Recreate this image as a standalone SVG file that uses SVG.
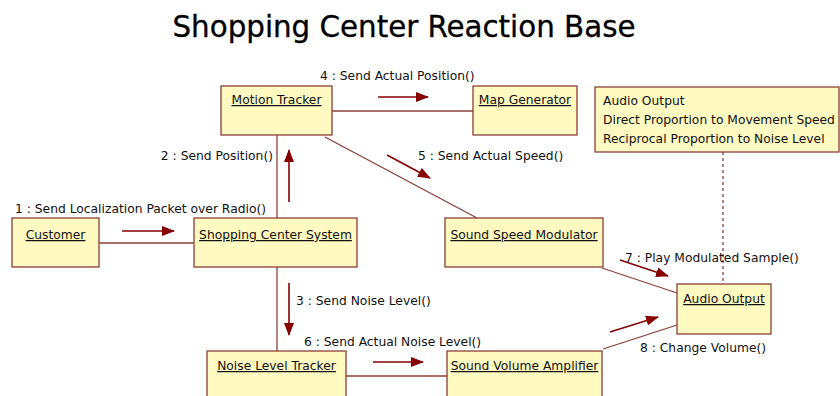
<svg xmlns="http://www.w3.org/2000/svg" width="840" height="396" viewBox="0 0 840 396">
<style>
.box{fill:#fffac2;stroke:#8b4036;stroke-width:1.3}
.nm{font-family:"DejaVu Sans","Liberation Sans",sans-serif;font-size:12.3px;fill:#111;text-decoration:underline;text-anchor:middle}
.lb{font-family:"DejaVu Sans","Liberation Sans",sans-serif;font-size:12.3px;fill:#111}
.ln{stroke:#8b4036;stroke-width:1.3;fill:none}
.ar{stroke:#850000;stroke-width:1.6;fill:none;marker-end:url(#ah)}
</style>
<defs>
<marker id="ah" viewBox="0 0 13 10" refX="12" refY="5" markerWidth="13" markerHeight="10" markerUnits="userSpaceOnUse" orient="auto">
<path d="M0,0 L13,5 L0,10 z" fill="#850000"/>
</marker>
</defs>
<rect width="840" height="396" fill="#fff"/>
<text x="404" y="37" font-family="DejaVu Sans Condensed, Liberation Sans, sans-serif" font-size="30" text-anchor="middle" fill="#000" stroke="#000" stroke-width="0.3" textLength="463" lengthAdjust="spacingAndGlyphs">Shopping Center Reaction Base</text>
<g id="connectors">
<line class="ln" x1="99" y1="243" x2="194" y2="243"/>
<line class="ln" x1="277" y1="135" x2="277" y2="218"/>
<line class="ln" x1="277" y1="267" x2="277" y2="351"/>
<line class="ln" x1="332" y1="111" x2="473" y2="111"/>
<line class="ln" x1="325" y1="137" x2="477" y2="218"/>
<line class="ln" x1="602" y1="268" x2="677" y2="293"/>
<line class="ln" x1="603" y1="349" x2="677" y2="325"/>
<line class="ln" x1="346" y1="376" x2="447" y2="376"/>
<line class="ln" x1="723" y1="152" x2="723" y2="284" stroke-dasharray="3,3"/>
<line class="ar" x1="122" y1="231" x2="174" y2="231"/>
<line class="ar" x1="289" y1="202" x2="289" y2="150"/>
<line class="ar" x1="289" y1="283" x2="289" y2="335"/>
<line class="ar" x1="378" y1="97" x2="428" y2="97"/>
<line class="ar" x1="387" y1="155" x2="430" y2="178"/>
<line class="ar" x1="373" y1="362" x2="423" y2="362"/>
<line class="ar" x1="620" y1="260" x2="668" y2="276"/>
<line class="ar" x1="610" y1="332" x2="658" y2="317"/>
<text class="lb" x="15" y="213">1 : Send Localization Packet over Radio()</text>
<text class="lb" x="273" y="160" text-anchor="end">2 : Send Position()</text>
<text class="lb" x="296" y="305">3 : Send Noise Level()</text>
<text class="lb" x="320" y="80">4 : Send Actual Position()</text>
<text class="lb" x="418" y="160">5 : Send Actual Speed()</text>
<text class="lb" x="304" y="346">6 : Send Actual Noise Level()</text>
<text class="lb" x="625" y="262">7 : Play Modulated Sample()</text>
<text class="lb" x="640" y="352">8 : Change Volume()</text>
</g>
<g id="customer"><rect class="box" x="12" y="218" width="87" height="49"/><text class="nm" x="55.5" y="239">Customer</text></g>
<g id="scs"><rect class="box" x="194" y="218" width="163" height="49"/><text class="nm" x="275.5" y="239">Shopping Center System</text></g>
<g id="motion"><rect class="box" x="221" y="86" width="111" height="49"/><text class="nm" x="276.5" y="104">Motion Tracker</text></g>
<g id="map"><rect class="box" x="473" y="86" width="104" height="49"/><text class="nm" x="525" y="104">Map Generator</text></g>
<g id="note"><rect class="box" x="595" y="87" width="244" height="65"/>
<text class="lb" x="603" y="105">Audio Output</text>
<text class="lb" x="603" y="124">Direct Proportion to Movement Speed</text>
<text class="lb" x="603" y="143">Reciprocal Proportion to Noise Level</text></g>
<g id="ssm"><rect class="box" x="445" y="218" width="158" height="49"/><text class="nm" x="524" y="239">Sound Speed Modulator</text></g>
<g id="audio"><rect class="box" x="677" y="284" width="94" height="50"/><text class="nm" x="724" y="303">Audio Output</text></g>
<g id="nlt"><rect class="box" x="207" y="351" width="139" height="60"/><text class="nm" x="276.5" y="370">Noise Level Tracker</text></g>
<g id="sva"><rect class="box" x="447" y="351" width="155" height="60"/><text class="nm" x="524.5" y="370">Sound Volume Amplifier</text></g>
</svg>
